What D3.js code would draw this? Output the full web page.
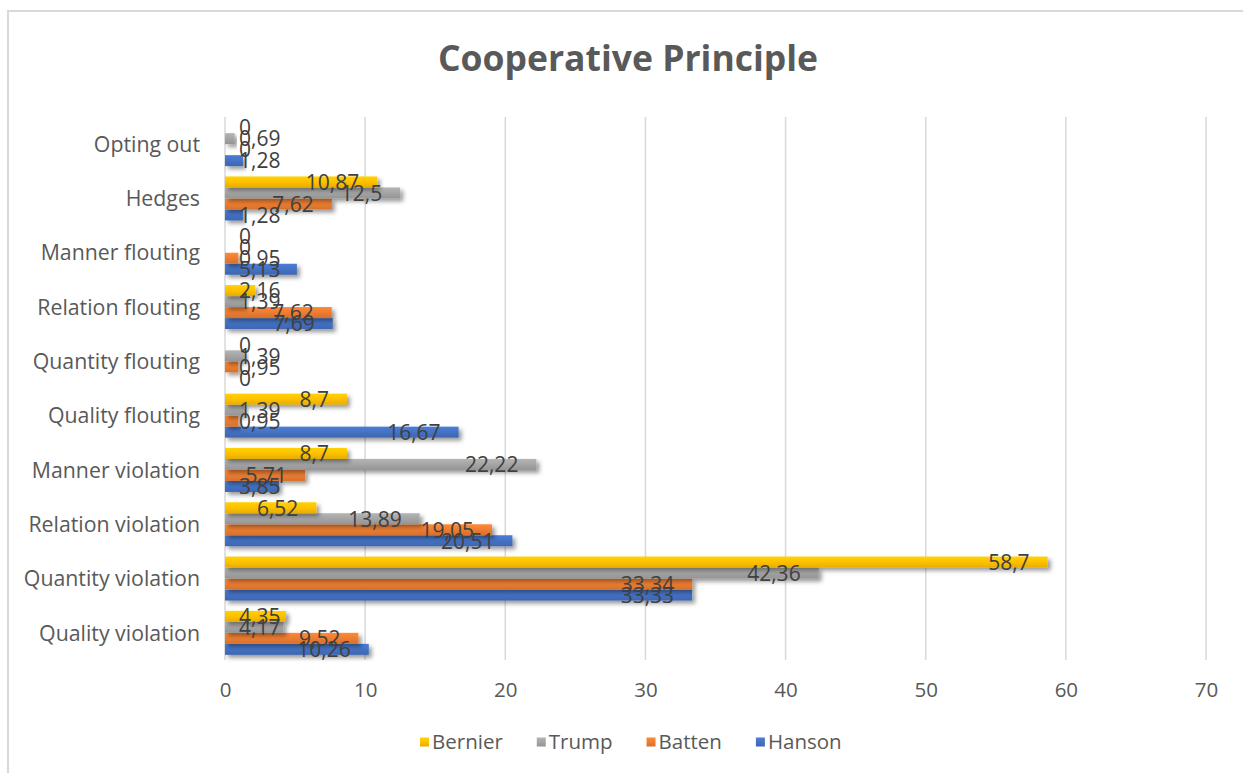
<!DOCTYPE html>
<html>
<head>
<meta charset="utf-8">
<script src="https://cdn.jsdelivr.net/npm/d3@7"></script>
<style>
  html, body { margin: 0; padding: 0; background: #ffffff; }
  svg { display: block; font-family: "Open Sans", "Noto Sans", sans-serif; }
</style>
</head>
<body>
<svg id="chart" width="1243" height="773"></svg>
<script>
// Categories, listed bottom to top as they appear on the axis
const categories = [
  "Quality violation", "Quantity violation", "Relation violation", "Manner violation",
  "Quality flouting", "Quantity flouting", "Relation flouting", "Manner flouting ",
  "Hedges", "Opting out"
];
// Series, listed from the bar nearest the bottom of each group upward
const seriesNames = ["Hanson", "Batten", "Trump", "Bernier"];
const hanson  = [10.26, 33.33, 20.51, 3.85, 16.67, 0,    7.69, 5.13, 1.28, 1.28];
const batten  = [9.52,  33.34, 19.05, 5.71, 0.95,  0.95, 7.62, 0.95, 7.62, 0];
const trump   = [4.17,  42.36, 13.89, 22.22, 1.39, 1.39, 1.39, 0,    12.5, 0.69];
const bernier = [4.35,  58.7,  6.52,  8.7,  8.7,   0,    2.16, 0,    10.87, 0];
const xTicks = [0, 10, 20, 30, 40, 50, 60, 70];
// Legend order as displayed
const legendOrder = ["Bernier", "Trump", "Batten", "Hanson"];

const seriesValues = { Hanson: hanson, Batten: batten, Trump: trump, Bernier: bernier };
const colors = { Hanson: "#4472C4", Batten: "#ED7D31", Trump: "#A5A5A5", Bernier: "#FFC000" };

const svg = d3.select("#chart");
const plot = { left: 225, right: 1206, top: 117, bottom: 660 };

const x = d3.scaleLinear().domain([0, 70]).range([plot.left, plot.right]);
// categories run bottom-up, so reverse for top-down band positions
const y = d3.scaleBand().domain(categories.slice().reverse()).range([plot.top, plot.bottom]).padding(0);
const bw = y.bandwidth();
// within a group, Bernier sits on top and Hanson at the bottom
const ySub = d3.scaleBand().domain(seriesNames.slice().reverse())
  .range([bw * 0.095, bw * 0.905]).padding(0);

// defs: gradients and drop shadow
const defs = svg.append("defs");
seriesNames.forEach(s => {
  const c = d3.color(colors[s]);
  const g = defs.append("linearGradient").attr("id", "grad-" + s)
    .attr("x1", 0).attr("y1", 0).attr("x2", 0).attr("y2", 1);
  g.append("stop").attr("offset", "0%").attr("stop-color", c.brighter(0.25));
  g.append("stop").attr("offset", "50%").attr("stop-color", c);
  g.append("stop").attr("offset", "100%").attr("stop-color", c.darker(0.3));
});
const f = defs.append("filter").attr("id", "shadow")
  .attr("x", "-10%").attr("y", "-50%").attr("width", "130%").attr("height", "250%");
f.append("feDropShadow").attr("dx", 3).attr("dy", 3).attr("stdDeviation", 2.2)
  .attr("flood-color", "#000").attr("flood-opacity", 0.4);

// chart area border
svg.append("rect").attr("x", 8).attr("y", 11).attr("width", 1400).attr("height", 900)
  .attr("fill", "none").attr("stroke", "#d9d9d9").attr("stroke-width", 2);

// title
svg.append("text").attr("x", 628).attr("y", 71).attr("text-anchor", "middle")
  .attr("font-size", 35.5).attr("font-weight", 700).attr("fill", "#595959")
  .text("Cooperative Principle");

// vertical gridlines
svg.append("g").selectAll("line").data(xTicks).join("line")
  .attr("x1", d => x(d)).attr("x2", d => x(d))
  .attr("y1", plot.top).attr("y2", plot.bottom)
  .attr("stroke", "#d9d9d9").attr("stroke-width", 1.5);

// x axis tick labels
const xAxis = d3.axisBottom(x).tickValues(xTicks).tickSize(0).tickPadding(0);
const gx = svg.append("g").attr("transform", `translate(0, ${plot.bottom})`).call(xAxis);
gx.select(".domain").remove();
gx.selectAll("text").attr("font-family", "Open Sans").attr("font-size", 20.5)
  .attr("fill", "#595959").attr("dy", 0).attr("y", 37);

// y axis category labels
const yAxis = d3.axisLeft(y).tickSize(0).tickPadding(25);
const gy = svg.append("g").attr("transform", `translate(${plot.left}, 0)`).call(yAxis);
gy.select(".domain").remove();
gy.selectAll("text").attr("font-family", "Open Sans").attr("font-size", 21.3)
  .attr("fill", "#595959").attr("dy", "0.36em");

// bars
const rows = [];
categories.forEach((c, i) => {
  seriesNames.forEach(s => rows.push({ cat: c, series: s, value: seriesValues[s][i] }));
});

const groups = svg.append("g").selectAll("g").data(categories).join("g")
  .attr("transform", d => `translate(0, ${y(d)})`);

groups.selectAll("rect")
  .data(c => rows.filter(r => r.cat === c))
  .join("rect")
  .attr("x", x(0))
  .attr("y", d => ySub(d.series))
  .attr("width", d => x(d.value) - x(0))
  .attr("height", ySub.bandwidth())
  .attr("fill", d => `url(#grad-${d.series})`)
  .attr("filter", "url(#shadow)");

// data labels (inside end, decimal comma)
const fmt = v => String(v).replace(".", ",");
const labels = groups.selectAll("text.lbl")
  .data(c => rows.filter(r => r.cat === c))
  .join("text").attr("class", "lbl")
  .attr("font-size", 21).attr("fill", "#404040")
  .attr("y", d => ySub(d.series) + ySub.bandwidth() / 2)
  .attr("dy", "0.37em")
  .text(d => fmt(d.value));
labels.each(function (d) {
  const w = this.getComputedTextLength();
  const end = x(d.value) - 18;
  const left = Math.max(end - w, x(0) + 14);
  d3.select(this).attr("x", left);
});

// legend
const legend = svg.append("g").attr("transform", "translate(420, 742)");
let lx = 0;
legendOrder.forEach(s => {
  const item = legend.append("g").attr("transform", `translate(${lx}, 0)`);
  item.append("rect").attr("x", 0).attr("y", -4.5).attr("width", 9).attr("height", 9)
    .attr("fill", `url(#grad-${s})`);
  const t = item.append("text").attr("x", 12).attr("y", 0).attr("dy", "0.36em")
    .attr("font-size", 20.5).attr("fill", "#595959").text(s);
  lx += 12 + t.node().getComputedTextLength() + 34;
});
</script>
</body>
</html>
